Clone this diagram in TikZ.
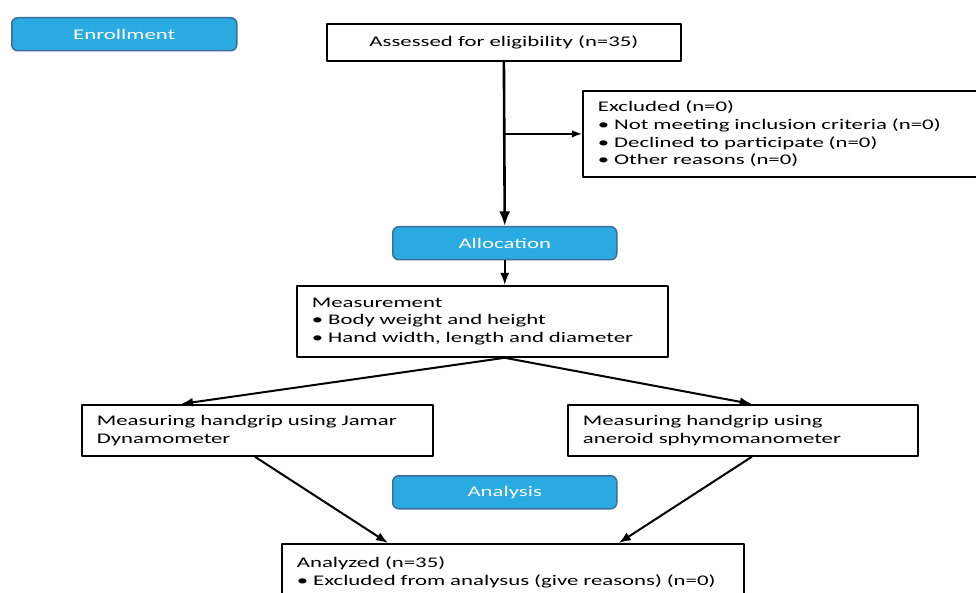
\documentclass[tikz,border=0pt]{standalone}
\usepackage{fontspec}
\setmainfont{Carlito}[FakeStretch=1.55]
\usetikzlibrary{arrows.meta,positioning}
\definecolor{stagefill}{HTML}{29ABE2}
\definecolor{stageline}{HTML}{3F6B9A}
\newcommand{\flowfont}{\fontsize{14.7pt}{17.7pt}\selectfont}

\begin{document}
\begin{tikzpicture}[x=1pt, y=-1pt, >=Latex,  % pixels of the page
            line join=round,
            stagebox/.style={draw=stageline, line width=1.5pt, fill=stagefill,
                rounded corners=6pt, text=white, anchor=north west,
                minimum width=224pt, minimum height=33pt, font=\flowfont},
            infobox/.style={draw=black, line width=1.8pt, fill=white,
                anchor=north west, align=left, inner xsep=15pt, font=\flowfont},
            flow/.style={->, line width=2pt}
        ]
        \useasboundingbox (0,0) rectangle (976,593);
        \clip (0,0) rectangle (976,593);

        % (1) Phases on the left and in the middle
        \node[stagebox, minimum width=225pt] (enroll) at (11,17) {Enrollment};
        \node[stagebox] (alloc) at (392,226) {Allocation};
        \node[stagebox] (analys) at (392,475) {Analysis};

        % (2) Eligibility and exclusion
        \node[infobox, minimum width=354pt, minimum height=37pt, align=center] (assess) at (326,23)
            {Assessed for eligibility (n=35)};
        \node[infobox, text width=370pt, minimum height=86pt] (excl) at (582,90)
            {Excluded (n=0)\\
             \textbullet\ Not meeting inclusion criteria (n=0)\\
             \textbullet\ Declined to participate (n=0)\\
             \textbullet\ Other reasons (n=0)};

        \draw[flow, line width=2.6pt] (assess.south) -- (alloc.north);
        \draw[flow, line width=1.6pt] (assess.south |- excl.west) -- (excl.west);

        % (3) Measurement
        \node[infobox, text width=341pt, minimum height=71pt] (meas) at (296,285)
            {Measurement\\
             \textbullet\ Body weight and height\\
             \textbullet\ Hand width, length and diameter};
        \coordinate (split) at (alloc.south |- meas.south);
        \draw[flow] (alloc.south) -- (alloc.south |- meas.north);

        % (4) The two handgrip measures
        \node[infobox, text width=321pt, minimum height=51pt] (jamar) at (81,404)
            {Measuring handgrip using Jamar\\ Dynamometer};
        \node[infobox, text width=320pt, minimum height=51pt] (aneroid) at (567,404)
            {Measuring handgrip using\\ aneroid sphymomanometer};
        \draw[flow] (split) -- ([xshift=100pt]jamar.north west);
        \draw[flow] (split) -- ([xshift=-167pt]aneroid.north east);

        % (5) Analysis
        \node[infobox, text width=432pt, minimum height=57pt] (analyzed) at (281,543)
            {Analyzed (n=35)\\
             \textbullet\ Excluded from analysus (give reasons) (n=0)};
        \draw[flow] ([xshift=174pt]jamar.south west) -- ([xshift=107pt]analyzed.north west);
        \draw[flow] ([xshift=-167pt]aneroid.south east) -- ([xshift=-126pt]analyzed.north east);

\end{tikzpicture}
\end{document}
